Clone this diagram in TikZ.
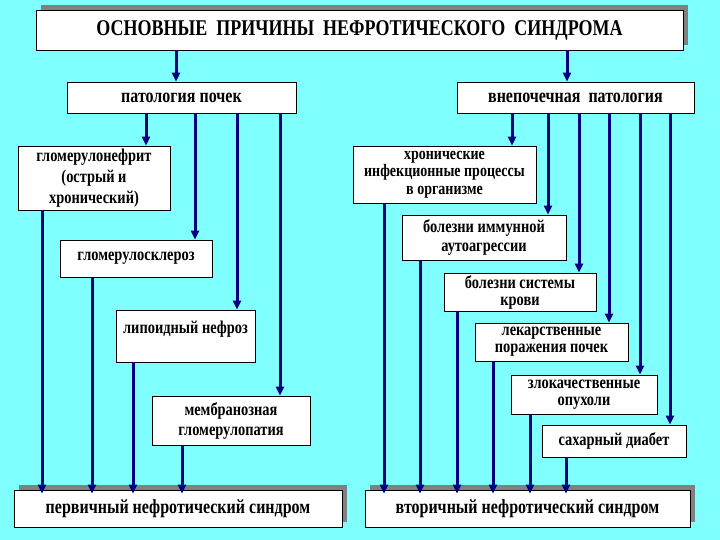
\documentclass[tikz,border=0pt]{standalone}
\usepackage{fontspec}
\setmainfont[FakeStretch=0.8]{Liberation Serif}
\usepackage{xcolor}
\usetikzlibrary{arrows.meta}
\usetikzlibrary{shadows}
\definecolor{sky}{HTML}{80FFFF}
\definecolor{navy}{HTML}{000080}
\definecolor{shade}{HTML}{808080}
\tikzset{
  % The title and the two syndrome boxes: grey shadow up and to the right
  headbox/.style={
    draw=black, fill=white, line width=0.8pt, inner sep=0pt, align=center,
    font=\bfseries\fontsize{20}{22}\selectfont,
    minimum width=#1,
    drop shadow={shadow xshift=5pt, shadow yshift=5pt, fill=shade, opacity=1}},
  % A group of causes
  groupbox/.style={
    draw=black, fill=white, line width=0.6pt, inner sep=0pt, align=center,
    font=\bfseries\fontsize{20}{22}\selectfont, minimum width=#1},
  % A single cause
  causebox/.style 2 args={
    draw=black, fill=white, line width=0.6pt, inner sep=0pt, align=center,
    font=\bfseries\fontsize{18}{#2}\selectfont, minimum width=#1},
  % Connectors
  feed/.style={-{Triangle[length=9pt, width=8pt]}, draw=navy, line width=3pt},
  sink/.style={feed, shorten >=-4pt},
}

\begin{document}
\begin{tikzpicture}[x=1pt, y=-1pt]

  \fill[sky] (0,0) rectangle (720,540);

  \node[headbox=647pt, minimum height=40pt, font=\bfseries\fontsize{22.5}{24}\selectfont] (title) at (359.5,30)
    {ОСНОВНЫЕ\ \ ПРИЧИНЫ\ \ НЕФРОТИЧЕСКОГО\ \ СИНДРОМА};

  \node[groupbox=229pt, minimum height=31pt] (pp) at (181.5,97.5) {патология почек};
  \node[groupbox=237pt, minimum height=31pt] (vp) at (575.5,97.5) {внепочечная\ \ патология};

  % kidney causes
  \node[causebox={152pt}{21}, minimum height=64pt] (gn) at (94,178)
    {гломерулонефрит\\(острый и\\хронический)};
  \node[causebox={152pt}{19}, minimum height=37pt] (gs) at (136,258.5) {гломерулосклероз};
  \node[causebox={139pt}{17}, minimum height=52pt] (ln) at (185.5,336) {липоидный нефроз\\\mbox{}};
  \node[causebox={158pt}{20}, minimum height=49pt] (mg) at (231,420.5)
    {мембранозная\\гломерулопатия};

  % causes outside the kidney
  \node[causebox={183pt}{17.5}, minimum height=57pt, font=\bfseries\fontsize{17.5}{17.5}\selectfont]
    (ip) at (444.5,174.5) {хронические\\инфекционные процессы\\в организме};
  \node[causebox={164pt}{19}, minimum height=45pt] (ia) at (484,237.5)
    {болезни иммунной\\аутоагрессии};
  \node[causebox={152pt}{17}, minimum height=38pt] (bk) at (520,292)
    {болезни системы\\крови};
  \node[causebox={153pt}{17}, minimum height=38pt] (lp) at (551.5,342)
    {лекарственные\\поражения почек};
  \node[causebox={146pt}{17}, minimum height=39pt] (zo) at (584,394.5)
    {злокачественные\\опухоли};
  \node[causebox={144pt}{18}, minimum height=32pt] (sd) at (614,441) {сахарный диабет};

  \node[headbox=328pt, minimum height=37pt] (pr) at (178,508.5) {первичный нефротический синдром};
  \node[headbox=325pt, minimum height=37pt] (vt) at (527.5,508.5) {вторичный нефротический синдром};

  \draw[feed] (176,0 |- title.south) -- (176,0 |- pp.north);
  \draw[feed] (567,0 |- title.south) -- (567,0 |- vp.north);

  \draw[feed] (146,0 |- pp.south) -- (146,0 |- gn.north);
  \draw[feed] (195,0 |- pp.south) -- (195,0 |- gs.north);
  \draw[feed] (237,0 |- pp.south) -- (237,0 |- ln.north);
  \draw[feed] (280,0 |- pp.south) -- (280,0 |- mg.north);

  \draw[feed] (512,0 |- vp.south) -- (512,0 |- ip.north);
  \draw[feed] (548,0 |- vp.south) -- (548,0 |- ia.north);
  \draw[feed] (579,0 |- vp.south) -- (579,0 |- bk.north);
  \draw[feed] (609,0 |- vp.south) -- (609,0 |- lp.north);
  \draw[feed] (640,0 |- vp.south) -- (640,0 |- zo.north);
  \draw[feed] (670,0 |- vp.south) -- (670,0 |- sd.north);

  \draw[sink] (42,0 |- gn.south) -- (42,0 |- pr.north);
  \draw[sink] (92,0 |- gs.south) -- (92,0 |- pr.north);
  \draw[sink] (133,0 |- ln.south) -- (133,0 |- pr.north);
  \draw[sink] (182,0 |- mg.south) -- (182,0 |- pr.north);

  \draw[sink] (384,0 |- ip.south) -- (384,0 |- vt.north);
  \draw[sink] (420,0 |- ia.south) -- (420,0 |- vt.north);
  \draw[sink] (457,0 |- bk.south) -- (457,0 |- vt.north);
  \draw[sink] (493,0 |- lp.south) -- (493,0 |- vt.north);
  \draw[sink] (530,0 |- zo.south) -- (530,0 |- vt.north);
  \draw[sink] (566,0 |- sd.south) -- (566,0 |- vt.north);

\end{tikzpicture}
\end{document}
